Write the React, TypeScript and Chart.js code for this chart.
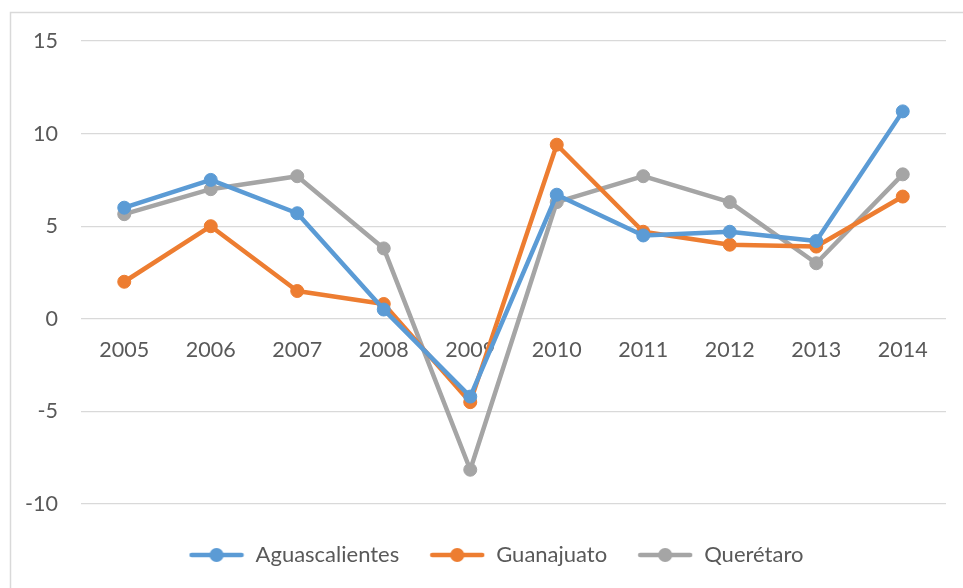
import React, { useEffect, useRef } from 'react';
import { Chart, registerables } from 'chart.js';

Chart.register(...registerables);

const years = ['2005', '2006', '2007', '2008', '2009', '2010', '2011', '2012', '2013', '2014'];
const aguascalientes = [6.0, 7.5, 5.7, 0.5, -4.2, 6.7, 4.5, 4.7, 4.2, 11.2];
const guanajuato = [2.0, 5.0, 1.5, 0.8, -4.5, 9.4, 4.7, 4.0, 3.9, 6.6];
const queretaro = [5.65, 7.0, 7.7, 3.8, -8.15, 6.3, 7.7, 6.3, 3.0, 7.8];
const seriesNames = ['Aguascalientes', 'Guanajuato', 'Querétaro'];
const seriesColors = ['#5B9BD5', '#ED7D31', '#A5A5A5'];
const yMin = -10;
const yMax = 15;
const yStep = 5;

const FONT = 'Lato';
const TEXT = '#595959';

function legendSymbol(color: string): HTMLCanvasElement {
  const c = document.createElement('canvas');
  c.width = 56;
  c.height = 16;
  const ctx = c.getContext('2d')!;
  ctx.strokeStyle = color;
  ctx.lineWidth = 4.5;
  ctx.lineCap = 'round';
  ctx.beginPath();
  ctx.moveTo(3, 8);
  ctx.lineTo(53, 8);
  ctx.stroke();
  ctx.fillStyle = color;
  ctx.beginPath();
  ctx.arc(28, 8, 7, 0, Math.PI * 2);
  ctx.fill();
  return c;
}

const borderPlugin = {
  id: 'outerBorder',
  beforeDraw(chart: any) {
    const ctx = chart.ctx;
    ctx.save();
    ctx.fillStyle = '#ffffff';
    ctx.fillRect(0, 0, chart.width, chart.height);
    ctx.strokeStyle = '#d9d9d9';
    ctx.lineWidth = 1.5;
    ctx.strokeRect(10.5, 12.5, chart.width + 50, chart.height + 50);
    ctx.restore();
  },
};

const legendShiftPlugin = {
  id: 'legendShift',
  afterLayout(chart: any) {
    const l = chart.legend;
    if (l) {
      l.left += 23;
      l.right += 23;
    }
  },
};

export default function App() {
  const ref = useRef<HTMLCanvasElement | null>(null);

  useEffect(() => {
    if (!ref.current) return;
    const data = [aguascalientes, guanajuato, queretaro];
    const chart = new Chart(ref.current, {
      type: 'line',
      data: {
        labels: years,
        datasets: data.map((d, i) => ({
          label: seriesNames[i],
          data: d,
          borderColor: seriesColors[i],
          backgroundColor: seriesColors[i],
          pointBackgroundColor: seriesColors[i],
          pointBorderColor: seriesColors[i],
          borderWidth: 4.5,
          pointRadius: 6.5,
          pointBorderWidth: 1,
          tension: 0,
          borderJoinStyle: 'round' as const,
          borderCapStyle: 'round' as const,
        })),
      },
      options: {
        animation: false,
        responsive: false,
        maintainAspectRatio: false,
        layout: { padding: { left: 0, right: 17, top: 41, bottom: 12 } },
        font: { family: FONT },
        scales: {
          x: {
            position: { y: 0 } as any,
            offset: true,
            grid: { display: false, drawTicks: false },
            border: { display: false },
            ticks: { color: TEXT, font: { family: FONT, size: 21.5 }, padding: 18, maxRotation: 0, autoSkip: false },
          },
          y: {
            min: yMin,
            max: yMax,
            grid: { color: '#d9d9d9', lineWidth: 1.3, drawTicks: false },
            border: { display: false },
            ticks: { stepSize: yStep, color: TEXT, font: { family: FONT, size: 21.5 }, padding: 23 },
            afterFit(scale: any) {
              scale.width = 81;
            },
          },
        },
        plugins: {
          tooltip: { enabled: false },
          legend: {
            position: 'bottom',
            title: {
              display: true,
              text: ' ',
              font: { family: FONT, size: 1 },
              padding: { top: 0, bottom: 8.8 },
            },
            labels: {
              color: TEXT,
              font: { family: FONT, size: 22 },
              usePointStyle: true,
              pointStyleWidth: 56,
              padding: 30,
              generateLabels(chart: any) {
                const items = Chart.defaults.plugins.legend.labels.generateLabels(chart);
                return items.map((it: any, i: number) => ({
                  ...it,
                  pointStyle: legendSymbol(seriesColors[i]),
                }));
              },
            },
          },
        },
      },
      plugins: [borderPlugin, legendShiftPlugin],
    });
    return () => chart.destroy();
  }, []);

  return (
    <div style={{ position: 'fixed', left: 0, top: 0, width: 963, height: 588, background: '#fff' }}>
      <canvas ref={ref} width={963} height={588} style={{ width: 963, height: 588, display: 'block' }} />
    </div>
  );
}
